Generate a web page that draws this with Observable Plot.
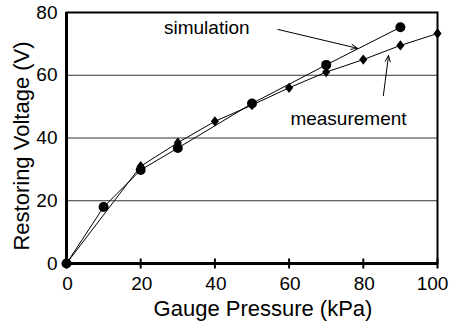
<!DOCTYPE html>
<html>
<head>
<meta charset="utf-8">
<script src="https://cdn.jsdelivr.net/npm/d3@7"></script>
<script src="https://cdn.jsdelivr.net/npm/@observablehq/plot@0.6"></script>
<style>
  html, body { margin: 0; padding: 0; background: #fff; }
  #chart svg { display: block; }
</style>
</head>
<body>
<div id="chart"></div>
<script>
// Simulation series (circles)
const simPressure = [0, 10, 20, 30, 50, 70, 90];
const simVoltage  = [0, 18, 29.8, 36.8, 51, 63.3, 75.3];
// Measurement series (diamonds)
const measPressure = [0, 20, 30, 40, 50, 60, 70, 80, 90, 100];
const measVoltage  = [0, 31, 38.5, 45.3, 50.5, 56, 61, 65, 69.5, 73.3];
// Axis ticks
const xTicks = [0, 20, 40, 60, 80, 100];
const xTickLabelsMain = [0, 20, 40, 60, 80];
const xTickLabelsEnd = [100];
const yTicks = [0, 20, 40, 60, 80];
const yGrid = [20, 40, 60];
// Annotations (data units)
const labelText = ["simulation", "measurement"];
const labelX = [37.8, 76];
const labelY = [75.2, 46.2];
const arrowX1 = [57, 85.4];
const arrowY1 = [74.6, 53.5];
const arrowX2 = [78.4, 86.8];
const arrowY2 = [68.6, 66.3];
const xTitle = "Gauge Pressure (kPa)";
const yTitle = "Restoring Voltage (V)";

const sim = simPressure.map((x, i) => ({x, y: simVoltage[i]}));
const meas = measPressure.map((x, i) => ({x, y: measVoltage[i]}));
const labels = labelText.map((t, i) => ({t, x: labelX[i], y: labelY[i]}));
const arrows = arrowX1.map((x1, i) => ({x1, y1: arrowY1[i], x2: arrowX2[i], y2: arrowY2[i]}));

const diamond = {
  draw(ctx, size) {
    const r = Math.sqrt(size / Math.PI);
    ctx.moveTo(0, -r * 1.15);
    ctx.lineTo(r * 0.9, 0);
    ctx.lineTo(0, r * 1.15);
    ctx.lineTo(-r * 0.9, 0);
    ctx.closePath();
  }
};
const vtick = {
  draw(ctx, size) {
    const r = Math.sqrt(size / Math.PI);
    ctx.moveTo(0, -r);
    ctx.lineTo(0, r);
  }
};

const font = "Liberation Sans, Arial, Helvetica, sans-serif";

const chart = Plot.plot({
  width: 450,
  height: 323,
  marginLeft: 66,
  marginRight: 13,
  marginTop: 12,
  marginBottom: 60,
  style: {fontFamily: font, fontSize: "19px", color: "#000", background: "#fff"},
  x: {domain: [0, 100]},
  y: {domain: [0, 80]},
  marks: [
    Plot.ruleY(yGrid, {stroke: "#333", strokeWidth: 1}),
    Plot.frame({stroke: "#000", strokeWidth: 2}),
    Plot.ruleX([0], {stroke: "#000", strokeWidth: 3}),
    Plot.ruleY([0], {stroke: "#000", strokeWidth: 3}),
    Plot.dot(xTicks, {x: d => d, y: 0, symbol: vtick, r: 5, stroke: "#000", strokeWidth: 2, fill: "none"}),
    Plot.axisX(xTickLabelsMain, {tickSize: 0, tickPadding: 13, label: null, fontSize: 19, dx: 1}),
    Plot.axisX(xTickLabelsEnd, {tickSize: 0, tickPadding: 13, label: null, fontSize: 19, dx: -5}),
    Plot.axisY(yTicks, {tickSize: 0, tickPadding: 9, label: null, fontSize: 19}),
    Plot.line(meas, {x: "x", y: "y", stroke: "#000", strokeWidth: 1}),
    Plot.line(sim, {x: "x", y: "y", stroke: "#000", strokeWidth: 1}),
    Plot.dot(meas, {x: "x", y: "y", symbol: diamond, r: 4.5, fill: "#000", stroke: "none"}),
    Plot.dot(sim, {x: "x", y: "y", r: 5, fill: "#000", stroke: "none"}),
    Plot.arrow(arrows, {x1: "x1", y1: "y1", x2: "x2", y2: "y2", stroke: "#000", strokeWidth: 1, headLength: 10, headAngle: 45}),
    Plot.text(labels, {x: "x", y: "y", text: "t", fontSize: 19, fill: "#000"}),
    Plot.text([xTitle], {text: d => d, frameAnchor: "bottom", textAnchor: "middle", lineAnchor: "middle", dy: 45, dx: 11, fontSize: 22, fill: "#000"}),
    Plot.text([yTitle], {text: d => d, frameAnchor: "left", textAnchor: "middle", lineAnchor: "middle", rotate: -90, dx: -45, dy: 8, fontSize: 22, fill: "#000"})
  ]
});
document.getElementById("chart").appendChild(chart);
</script>
</body>
</html>
